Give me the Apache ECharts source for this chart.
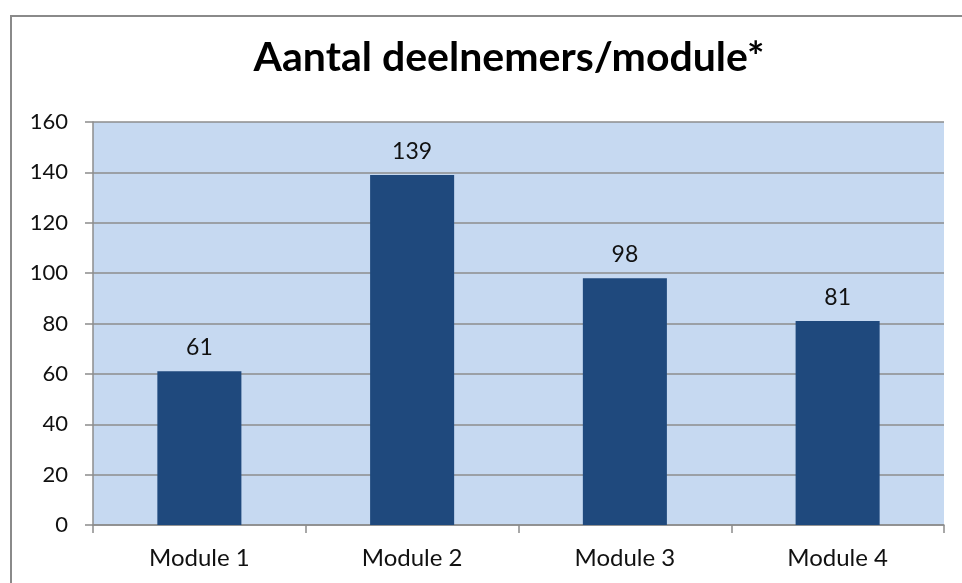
<!DOCTYPE html>
<html>
<head>
<meta charset="utf-8">
<script src="https://cdn.jsdelivr.net/npm/echarts@6/dist/echarts.min.js"></script>
<style>html,body{margin:0;padding:0;background:#fff}#c{width:962px;height:583px}</style>
</head>
<body>
<div id="c"></div>
<script>
const titleText = 'Aantal deelnemers/module*';
const categories = ['Module 1', 'Module 2', 'Module 3', 'Module 4'];
const values = [61, 139, 98, 81];
const yTicks = [0, 20, 40, 60, 80, 100, 120, 140, 160];

const chart = echarts.init(document.getElementById('c'), null, {renderer: 'canvas'});
const font = 'Lato, "Open Sans", sans-serif';
chart.setOption({
  animation: false,
  backgroundColor: '#fff',
  title: {
    text: titleText, left: 504, top: 32, textAlign: 'center',
    textStyle: {fontFamily: font, fontWeight: 'bold', fontSize: 41, color: '#000'}
  },
  graphic: [{
    type: 'rect', shape: {x: 11, y: 16, width: 1200, height: 1200},
    style: {fill: 'none', stroke: '#8a8a8a', lineWidth: 2}, silent: true
  }],
  grid: {left: 93, right: 18, top: 122, bottom: 58, show: true, backgroundColor: '#C6D9F1', borderWidth: 0},
  xAxis: {
    type: 'category', data: categories,
    axisLine: {lineStyle: {color: '#8c8c8c', width: 1.5}},
    axisTick: {show: true, length: 8, alignWithLabel: false, lineStyle: {color: '#8c8c8c', width: 1.5}},
    axisLabel: {fontFamily: font, fontSize: 24, color: '#111', margin: 21}
  },
  yAxis: {
    type: 'value', min: yTicks[0], max: yTicks[yTicks.length - 1], interval: 20,
    axisLine: {show: true, lineStyle: {color: '#8c8c8c', width: 1.5}},
    axisTick: {show: true, length: 8, lineStyle: {color: '#8c8c8c', width: 1.5}},
    axisLabel: {fontFamily: font, fontSize: 22, color: '#111', margin: 25},
    splitLine: {lineStyle: {color: '#8c8c8c', width: 1.5}}
  },
  series: [{
    type: 'bar', data: values, barWidth: '39.5%',
    itemStyle: {color: '#1F497D'},
    label: {show: true, position: 'top', distance: 12, fontFamily: font, fontSize: 23, color: '#111'}
  }]
});
</script>
</body>
</html>
